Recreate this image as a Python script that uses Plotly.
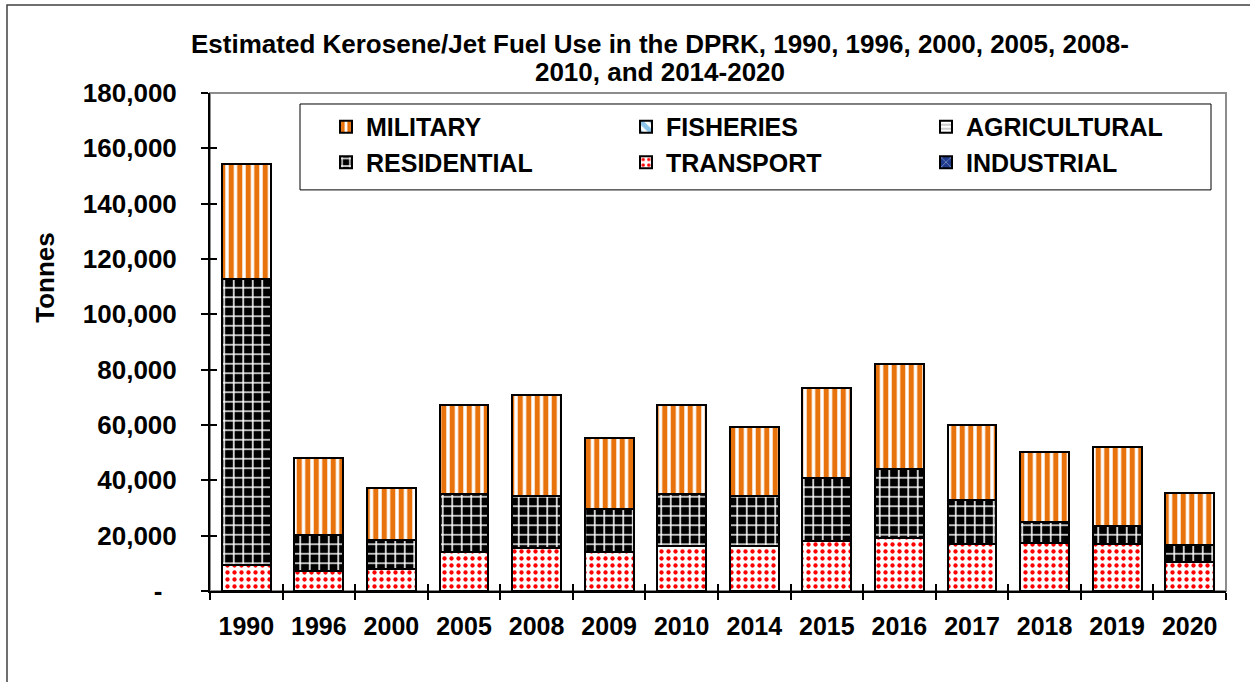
import plotly.graph_objects as go

years = ["1990", "1996", "2000", "2005", "2008", "2009", "2010",
         "2014", "2015", "2016", "2017", "2018", "2019", "2020"]
industrial = [0] * 14
transport = [9300, 7400, 8000, 14000, 15600, 14000, 16400,
             16200, 18000, 19200, 17100, 17200, 16900, 10600]
residential = [103300, 12800, 10400, 21200, 18900, 15500, 18500,
               18200, 22900, 24800, 15900, 7700, 6500, 6000]
agricultural = [0] * 14
fisheries = [0] * 14
military = [41900, 27800, 18900, 32200, 36400, 25900, 32400,
            24700, 32400, 38100, 27100, 25300, 28600, 18700]

y_ticks = [0, 20000, 40000, 60000, 80000, 100000, 120000, 140000, 160000, 180000]
y_ticktext = ["-\u00a0\u00a0"] + [f"{v:,}" for v in y_ticks[1:]]

title_lines = ["Estimated Kerosene/Jet Fuel Use in the DPRK, 1990, 1996, 2000, 2005, 2008-",
               "2010, and 2014-2020"]
y_title = "Tonnes"

FONT = "Liberation Sans, Arial, sans-serif"
W, H = 1250, 682
L, R, T, B = 210, 24, 93, 90.5
pw, ph = W - L - R, H - T - B


def px_x(x):
    return (x - L) / pw


def px_y(y):
    return (H - B - y) / ph


line = dict(color="black", width=2)
series = [
    ("INDUSTRIAL", industrial, dict(shape="x", fgcolor="#C9D6F0", bgcolor="#1F3A8A", size=8, solidity=0.25), 6),
    ("TRANSPORT", transport, dict(shape=".", fgcolor="#FF0000", bgcolor="white", size=7, solidity=0.3, fgopacity=1), 5),
    ("RESIDENTIAL", residential, dict(shape="+", fgcolor="white", bgcolor="black", size=9.5, solidity=0.3, fgopacity=1), 4),
    ("AGRICULTURAL", agricultural, dict(shape="-", fgcolor="#7F7F7F", bgcolor="white", size=5, solidity=0.4), 3),
    ("FISHERIES", fisheries, dict(shape="\\", fgcolor="#1C8BD6", bgcolor="white", size=12, solidity=0.6), 2),
    ("MILITARY", military, dict(shape="|", fgcolor="#E8720C", bgcolor="white", size=8.5, solidity=0.6, fgopacity=1), 1),
]

fig = go.Figure()
for name, vals, pat, rank in series:
    fig.add_trace(go.Bar(
        x=years, y=vals, name=name, legendrank=rank,
        marker=dict(color="white", pattern=pat, line=line),
    ))

# dummy trace for the overlay axes (crossing tick marks)
fig.add_trace(go.Scatter(x=[None], y=[None], xaxis="x2", yaxis="y2",
                         showlegend=False, hoverinfo="skip"))

ytick_font = dict(family=FONT, size=26, color="black", weight="bold")
xtick_font = dict(family=FONT, size=25, color="black", weight="bold")

title_text = "<br>".join(f'<span style="font-size:26px">{t}</span>' for t in title_lines)

fig.update_layout(
    width=W, height=H,
    margin=dict(l=L, r=R, t=T, b=B, autoexpand=False),
    paper_bgcolor="white", plot_bgcolor="white",
    barmode="stack", bargap=0.325,
    title=dict(
        text=title_text,
        font=dict(family=FONT, size=21.5, color="black", weight="bold"),
        x=0.528, xanchor="center", y=1 - 53 / H, yanchor="top",
    ),
    xaxis=dict(
        type="category", tickson="boundaries", ticks="outside", ticklen=7,
        tickwidth=1.5, tickcolor="black", showline=True, linecolor="black",
        linewidth=2, showgrid=False, tickfont=xtick_font, ticklabelstandoff=12,
    ),
    yaxis=dict(
        range=[0, 180000], tickvals=y_ticks, ticktext=y_ticktext,
        ticks="outside", ticklen=7, tickwidth=1.5, tickcolor="black",
        showline=True, linecolor="black", linewidth=2, showgrid=False,
        zeroline=False, tickfont=ytick_font, ticklabelstandoff=19,
    ),
    xaxis2=dict(
        overlaying="x", anchor="y2", side="bottom", range=[-0.5, 13.5],
        tickvals=[i - 0.5 for i in range(15)], ticks="inside", ticklen=7,
        tickwidth=1.5, tickcolor="black", showticklabels=False,
        showline=False, showgrid=False, zeroline=False,
    ),
    yaxis2=dict(
        overlaying="y", anchor="x2", side="left", range=[0, 180000],
        tickvals=y_ticks, ticks="inside", ticklen=7, tickwidth=1.5,
        tickcolor="black", showticklabels=False, showline=False,
        showgrid=False, zeroline=False,
    ),
    legend=dict(
        orientation="h", x=px_x(326), y=px_y(104), xanchor="left", yanchor="top",
        entrywidth=255, entrywidthmode="pixels", traceorder="normal",
        font=dict(family=FONT, size=25, color="black", weight="bold"),
        bgcolor="rgba(0,0,0,0)", borderwidth=0,
    ),
    annotations=[
        dict(text=y_title, textangle=-90, xref="paper", yref="paper",
             x=px_x(45), y=px_y(278), xanchor="center", yanchor="middle",
             showarrow=False,
             font=dict(family=FONT, size=26, color="black", weight="bold")),
    ],
    shapes=[
        # plot-area border
        dict(type="rect", xref="paper", yref="paper", x0=0, x1=1, y0=0, y1=1,
             line=dict(color="#8C8C8C", width=2), layer="below"),
        # legend box
        dict(type="rect", xref="paper", yref="paper",
             x0=px_x(300), x1=px_x(1211), y0=px_y(190), y1=px_y(104),
             line=dict(color="black", width=1), fillcolor="white", layer="below"),
        # outer chart frame
        dict(type="rect", xref="paper", yref="paper",
             x0=px_x(7), x1=px_x(1270), y0=px_y(700), y1=px_y(5),
             line=dict(color="#404040", width=1.5), layer="below"),
    ],
)

fig.write_html("out.html", config={"displayModeBar": False},
               post_script="document.body.style.margin='0px';")
